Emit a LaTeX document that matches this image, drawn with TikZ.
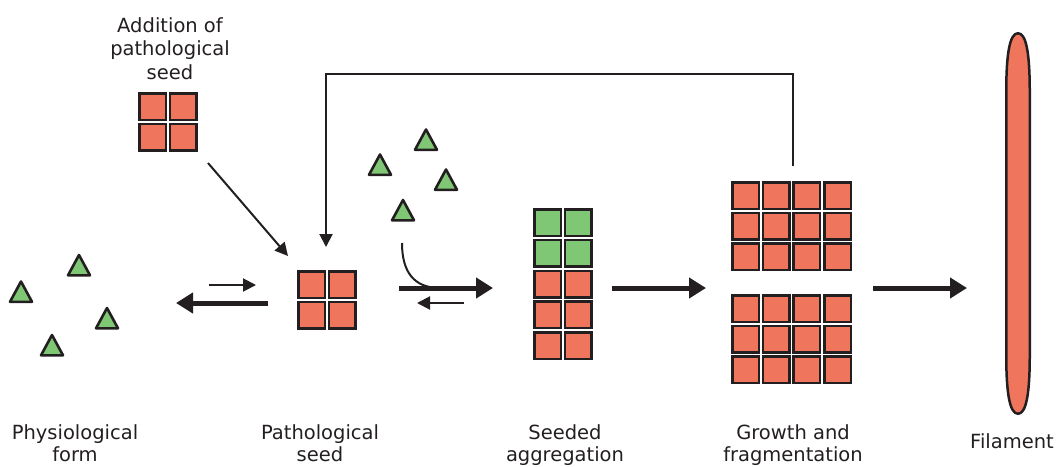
\documentclass[tikz,border=0pt]{standalone}
\usepackage{fontspec}
\setmainfont{DejaVu Sans}
\usetikzlibrary{arrows.meta,shapes.geometric}
\definecolor{seedred}{HTML}{EF765D}
\definecolor{monogreen}{HTML}{7FC774}
\definecolor{ink}{HTML}{231F20}
\tikzset{
  cellbox/.style={rectangle, draw=ink, line width=2.5pt, inner sep=0pt, minimum size=26.5pt},
  redcell/.style={cellbox, fill=seedred},
  greencell/.style={cellbox, fill=monogreen},
  monotri/.pic={\draw[draw=ink, fill=monogreen, line width=2.6pt, line join=round] (0,-10.5) -- (11,9.8) -- (-11,9.8) -- cycle;},
  thickarrow/.style={draw=ink, line width=5pt, -{Triangle[length=17pt,width=20pt]}},
  thinarrow/.style={draw=ink, line width=2pt, -{Triangle[length=13pt,width=13pt]}},
  plainline/.style={draw=ink, line width=2pt},
  filbody/.style={draw=ink, fill=seedred, line width=2.5pt},
  lbl/.style={font=\fontsize{19.5}{23.5}\selectfont, text=ink, align=center, inner sep=0pt},
  lblb/.style={font=\fontsize{19.5}{22}\selectfont, text=ink, align=center, inner sep=0pt},
}
\begin{document}
\begin{tikzpicture}[x=1pt,y=-1pt]
\useasboundingbox (0,0) rectangle (1059,466);

% added seed
\foreach \i/\x in {1/152.5,2/183}
  \foreach \j/\y in {1/106.5,2/137}
    \node[redcell] (add-\i-\j) at (\x,\y) {};
% pathological seed
\foreach \i/\x in {1/311.5,2/342}
  \foreach \j/\y in {1/284.5,2/315}
    \node[redcell] (seed-\i-\j) at (\x,\y) {};
% seeded aggregation
\foreach \i/\x in {1/547.5,2/578}{
  \foreach \j/\y in {1/222.5,2/253.3}
    \node[greencell] (agg-\i-\j) at (\x,\y) {};
  \foreach \j/\y in {3/284.1,4/314.9,5/345.7}
    \node[redcell] (agg-\i-\j) at (\x,\y) {};
}
% growth and fragmentation
\foreach \i/\x in {1/745.5,2/776.2,3/806.9,4/837.6}
  \foreach \j/\y in {1/195.5,2/226,3/256.5,4/308.5,5/339,6/369.5}
    \node[redcell] (gro-\i-\j) at (\x,\y) {};
% filament
\coordinate (fil) at (1018,223.5);
\draw[filbody] (1018,33.25) .. controls (1026,33.25) and (1029.75,52) .. (1029.75,92)
  -- (1029.75,355) .. controls (1029.75,395) and (1026,413.75) .. (1018,413.75)
  .. controls (1010,413.75) and (1006.25,395) .. (1006.25,355)
  -- (1006.25,92) .. controls (1006.25,52) and (1010,33.25) .. (1018,33.25) -- cycle;

% monomers
\pic (ta) at (79,265.5) {monotri};
\pic (tb) at (21,292) {monotri};
\pic (tc) at (107,318.5) {monotri};
\pic (td) at (52,345.5) {monotri};
\pic (tm1) at (426,140) {monotri};
\pic (tm2) at (380,165) {monotri};
\pic (tm3) at (446,180) {monotri};
\pic (tm4) at (403,210.5) {monotri};

% arrow end points
\coordinate (lbS) at (268,303);  \coordinate (lbE) at (176,303);
\coordinate (lsS) at (209,285);  \coordinate (lsE) at (256,285);
\coordinate (mbS) at (399,288);  \coordinate (mbE) at (493,288);
\coordinate (msS) at (464,303);  \coordinate (msE) at (417,303);
\coordinate (cvS) at (402,243);  \coordinate (cvE) at (440,288);
\coordinate (a3S) at (612,288);  \coordinate (a3E) at (706,288);
\coordinate (a4S) at (873,288);  \coordinate (a4E) at (967,288);
\coordinate (dgS) at (208,163);  \coordinate (dgE) at (288,256);
\coordinate (fbS) at (793,166);  \coordinate (fbC) at (326,74);
\coordinate (fbE) at (326,247);

\draw[thickarrow] (lbS) -- (lbE);
\draw[thinarrow] (lsS) -- (lsE);
\draw[thickarrow] (mbS) -- (mbE);
\draw[thinarrow] (msS) -- (msE);
\draw[plainline] (cvS) .. controls (402,272) and (414,288) .. (cvE);
\draw[thickarrow] (a3S) -- (a3E);
\draw[thickarrow] (a4S) -- (a4E);
\draw[thinarrow] (dgS) -- (dgE);
\draw[thinarrow] (fbS) |- (fbC) -- (fbE);

% labels (base anchor = baseline of last line)
\node[lblb, anchor=base] (lphys) at (75,461) {Physiological\\form};
\node[lblb, anchor=base] (lpath) at (320,461) {Pathological\\seed};
\node[lblb, anchor=base] (lagg) at (565,461) {Seeded\\aggregation};
\node[lblb, anchor=base] (lgro) at (793,461) {Growth and\\fragmentation};
\node[lbl, anchor=base] (lfil) at (1012,448) {Filament};
\node[lbl, anchor=base] (ladd) at (170,79) {Addition of\\pathological\\seed};
\end{tikzpicture}
\end{document}
